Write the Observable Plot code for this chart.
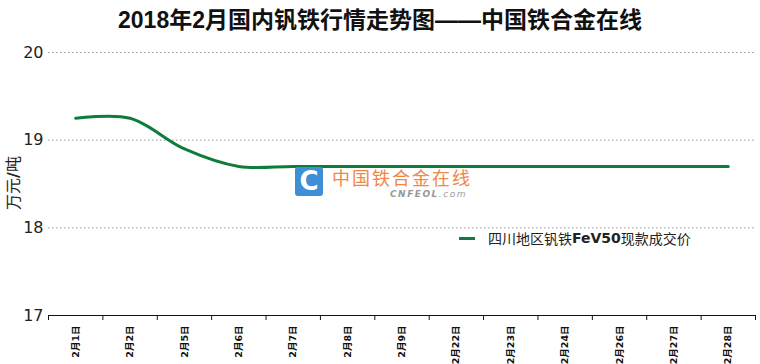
<!DOCTYPE html>
<html><head><meta charset="utf-8">
<script src="https://cdn.jsdelivr.net/npm/d3@7"></script>
<script src="https://cdn.jsdelivr.net/npm/@observablehq/plot@0.6"></script>
<style>
body{margin:0;background:#fff;}
#wrap{position:relative;width:760px;height:364px;overflow:hidden;font-family:"DejaVu Sans","Noto Sans CJK SC",sans-serif;}
#title{height:38px;line-height:40px;text-align:center;font-family:"Liberation Sans","Noto Sans CJK SC",sans-serif;font-weight:bold;font-size:23px;color:#111;}
#ylab{position:absolute;left:13px;top:183px;transform:translate(-50%,-50%) rotate(-90deg);font-family:"Noto Sans CJK SC",sans-serif;font-size:16px;line-height:18px;color:#222;white-space:nowrap;}
#ylab b{font-family:"DejaVu Sans";font-weight:bold;}
#legend{position:absolute;left:459px;top:228px;font-size:14px;color:#222;white-space:nowrap;display:flex;align-items:center;}
#legend .sw{display:inline-block;width:16px;height:3px;background:#0f7d3a;margin-right:13px;}
#legend .cjk{font-family:"Noto Sans CJK SC",sans-serif;}
#legend b{font-family:"DejaVu Sans";font-weight:bold;}
#wm{position:absolute;left:295px;top:167px;}
#wm .logo{position:absolute;left:0;top:0;width:28px;height:29px;background:#3f8fd6;border-radius:3px;color:#fff;font:bold 26px "DejaVu Sans";text-align:center;line-height:29px;}
#wm .cn{position:absolute;left:37px;top:0px;height:20px;line-height:20px;font-family:"Noto Sans CJK SC",sans-serif;font-size:18px;color:#f0874a;letter-spacing:2px;white-space:nowrap;}
#wm .en{position:absolute;left:95px;top:22px;height:10px;line-height:10px;font:italic bold 9px "DejaVu Sans";color:#999;letter-spacing:1.5px;white-space:nowrap;}
</style></head>
<body><div id="wrap">
<div id="title">2018年2月国内钒铁行情走势图——中国铁合金在线</div>
<div id="chart"></div>
<div id="ylab">万元<b>/</b>吨</div>
<div id="wm"><div class="logo">C</div><div class="cn">中国铁合金在线</div><div class="en">CNFEOL<span style="font-weight:normal">.com</span></div></div>
<div id="legend"><span class="sw"></span><span class="cjk">四川地区钒铁</span><b>FeV50</b><span class="cjk">现款成交价</span></div>
</div>
<script>
const dates = ["2月1日","2月2日","2月5日","2月6日","2月7日","2月8日","2月9日","2月22日","2月23日","2月24日","2月26日","2月27日","2月28日"];
const prices = [19.25,19.25,18.9,18.7,18.7,18.7,18.7,18.7,18.7,18.7,18.7,18.7,18.7];
const yTicks = [17,18,19,20];
const gridTicks = [18,19,20];

const data = dates.map((d,i)=>({i, d, v: prices[i]}));
const idx = dates.map((d,i)=>i);
const bounds = d3.range(dates.length + 1).map(i => i - 0.5);

const chart = Plot.plot({
  width: 760,
  height: 326,
  marginLeft: 48,
  marginRight: 5,
  marginTop: 14,
  marginBottom: 49,
  style: {fontFamily: '"DejaVu Sans","Noto Sans CJK SC",sans-serif', background: "#fff"},
  x: {type: "linear", domain: [-0.5, dates.length - 0.5]},
  y: {domain: [17, 20]},
  marks: [
    Plot.gridY(gridTicks, {stroke: "#999", strokeOpacity: 1, strokeDasharray: "1.5,2.5"}),
    Plot.axisY(yTicks, {tickSize: 0, tickPadding: 5, fontSize: 16, fill: "#222", tickFormat: d => String(d), label: null}),
    Plot.ruleY([17], {stroke: "#111", strokeWidth: 1.2}),
    Plot.axisX(bounds, {tickSize: 5, tickFormat: () => "", stroke: "#111", label: null}),
    Plot.axisX(idx, {tickSize: 0, tickPadding: 10, tickRotate: -90, tickFormat: i => dates[i], fontSize: 9.5, fontWeight: "bold", fill: "#111", label: null}),
    Plot.line(data, {x: "i", y: "v", stroke: "#0f7d3a", strokeWidth: 3, curve: "catmull-rom"})
  ]
});
document.getElementById("chart").appendChild(chart);
</script>
</body></html>
